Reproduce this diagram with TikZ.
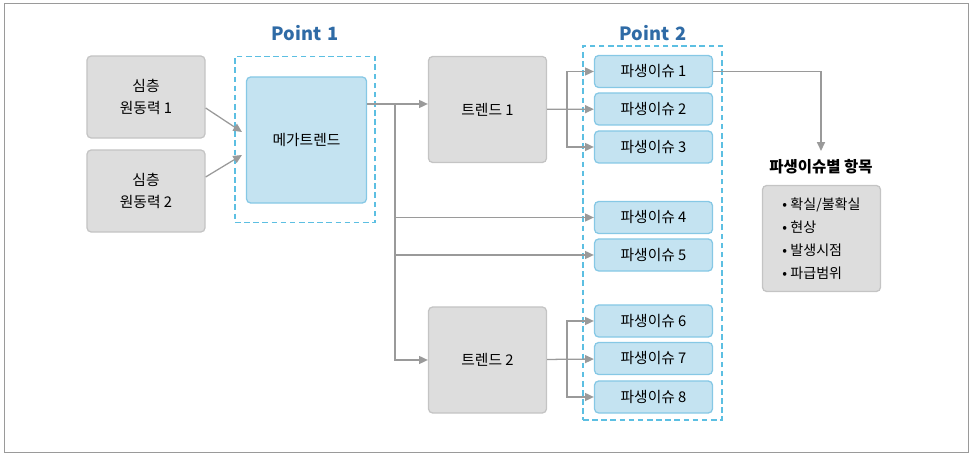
\documentclass[tikz,border=0pt]{standalone}
\usepackage{fontspec}
\setmainfont{Noto Sans CJK KR}
\usetikzlibrary{arrows.meta}
\definecolor{boxgray}{HTML}{DDDDDD}
\definecolor{linegray}{HTML}{C4C4C4}
\definecolor{arrgray}{HTML}{9A9A9A}
\definecolor{boxblue}{HTML}{C4E3F1}
\definecolor{lineblue}{HTML}{86C8E5}
\definecolor{dashblue}{HTML}{5CBFE2}
\definecolor{pointblue}{HTML}{2F6BA6}
\begin{document}
\begin{tikzpicture}[x=0.025cm, y=-0.025cm,
    graybox/.style={draw=linegray, line width=0.9pt, fill=boxgray, rounded corners=3pt,
        minimum width=2.95cm, align=center, font=\fontsize{10.5}{15.5}\selectfont},
    bluebox/.style={draw=lineblue, line width=0.9pt, fill=boxblue, rounded corners=3pt,
        align=center, font=\fontsize{10.5}{13}\selectfont},
    issue/.style={bluebox, minimum width=2.95cm, minimum height=0.8cm},
    pointbox/.style={draw=dashblue, line width=1pt, dash pattern=on 4pt off 2.5pt},
    pointlabel/.style={text=pointblue, font=\fontsize{13}{15}\selectfont\bfseries},
    arr/.style={draw=arrgray, line width=0.9pt, -{Triangle[length=2.2mm,width=2mm]}},
    line/.style={draw=arrgray, line width=0.9pt}]
    \useasboundingbox (0,0) rectangle (973,457);
    \draw[draw=arrgray, line width=0.6pt] (4,3) rectangle (968,452);
    %% driving forces and megatrend
    \node[graybox, minimum height=2.05cm] at (146,97) (src1) {심층\\원동력 1};
    \node[graybox, minimum height=2.05cm] at (146,191) (src2) {심층\\원동력 2};
    \node[pointbox, minimum width=3.5cm, minimum height=4.15cm] at (305,139.5) (p1) {};
    \node[pointlabel] at (305,33) (p1lab) {Point\,\,1};
    \node[bluebox, minimum width=3cm, minimum height=3.15cm] at (306.5,140) (mega) {메가트렌드};
    \coordinate (in1) at (242,132); \coordinate (in2) at (242,155);
    \draw[arr] (src1.east |- 0,108) -- (in1);
    \draw[arr] (src2.east |- 0,177) -- (in2);
    %% trends
    \node[graybox, minimum height=2.65cm] at (487.5,109.5) (trend1) {트렌드 1};
    \node[graybox, minimum height=2.65cm] at (487.5,360) (trend2) {트렌드 2};
    % derived issues
    \node[pointbox, minimum width=3.475cm, minimum height=9.35cm] at (652.5,233) (p2) {};
    \node[pointlabel] at (653,33) (p2lab) {Point\,\,2};
    \node[issue] at (653.5,71.5) (iss1) {파생이슈 1};
    \node[issue] at (653.5,109) (iss2) {파생이슈 2};
    \node[issue] at (653.5,147) (iss3) {파생이슈 3};
    \node[issue] at (653.5,217.5) (iss4) {파생이슈 4};
    \node[issue] at (653.5,255) (iss5) {파생이슈 5};
    \node[issue] at (653.5,321) (iss6) {파생이슈 6};
    \node[issue] at (653.5,358.5) (iss7) {파생이슈 7};
    \node[issue] at (653.5,397) (iss8) {파생이슈 8};
    %% megatrend to trends and issues
    \coordinate (trunk) at (395,104);
    \draw[arr] (mega.east |- trunk) -- (trend1.west |- trunk);
    \draw[arr] (trunk) |- (iss4);
    \draw[arr] (trunk) |- (iss5);
    \draw[arr] (trunk) |- (trend2.west);
    % trend forks
    \coordinate (fork1) at (567,109.5);
    \draw[arr] (trend1) -- (iss2);
    \draw[arr] (fork1) |- (iss1);
    \draw[arr] (fork1) |- (iss3);
    \coordinate (fork2) at (567,359);
    \draw[arr] (trend2) -- (iss7);
    \draw[arr] (fork2) |- (iss6);
    \draw[arr] (fork2) |- (iss8);
    %% items per issue
    \node[font=\fontsize{11}{13}\selectfont\bfseries, inner sep=1pt] at (821,167) (title) {파생이슈별 항목};
    \draw[arr] (iss1) -| ([yshift=5pt]title.north);
    \node[draw=linegray, line width=0.9pt, fill=boxgray, rounded corners=3pt,
        minimum width=2.95cm, minimum height=2.65cm, align=left,
        font=\fontsize{10}{16.3}\selectfont] at (821.5,238.5) (items)
        {• 확실/불확실\\• 현상\\• 발생시점\\• 파급범위};
\end{tikzpicture}
\end{document}
